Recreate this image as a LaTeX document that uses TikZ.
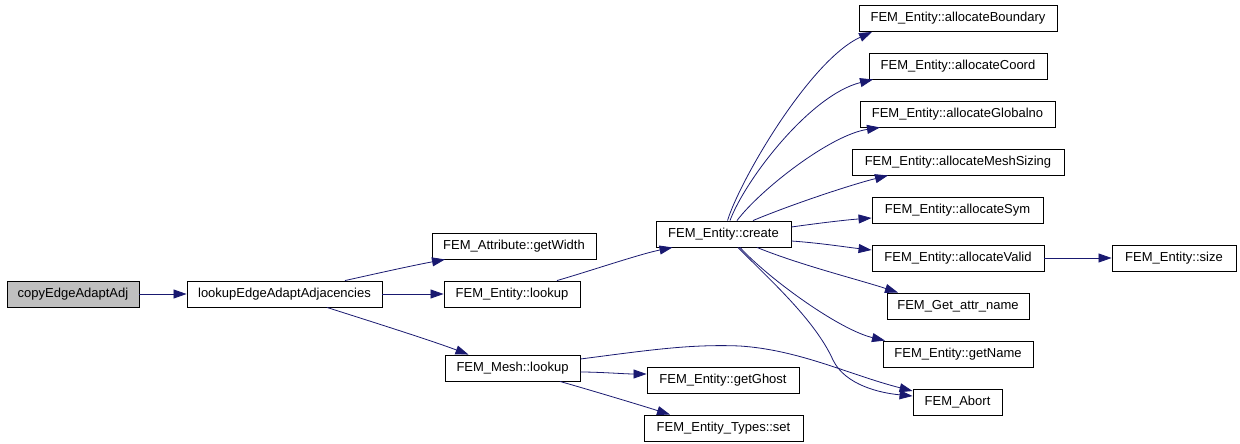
\documentclass[tikz,border=0pt]{standalone}
\usepackage{fontspec}
\setmainfont{Liberation Sans}
\usetikzlibrary{arrows.meta}
\definecolor{edgeblue}{RGB}{25,25,112}
\definecolor{hl}{RGB}{191,191,191}
\begin{document}
\begin{tikzpicture}[x=1pt,y=-1pt,
  fn/.style={draw=black,line width=0.9pt,fill=white,inner sep=0pt,minimum height=26pt,font=\fontsize{13}{15}\selectfont,text=black},
  cur/.style={fn,fill=hl},
  call/.style={draw=edgeblue,line width=0.8pt,-{Triangle[length=13pt,width=9pt,fill=edgeblue]}}]
\useasboundingbox (0,0) rectangle (1240,444);
\node[cur,minimum width=132pt] (copy) at (73,294) {copyEdgeAdaptAdj};
\node[fn,minimum width=195pt] (lea) at (284.5,294) {lookupEdgeAdaptAdjacencies};
\node[fn,minimum width=164pt] (gw) at (514,246) {FEM\_Attribute::getWidth};
\node[fn,minimum width=136pt] (el) at (512,294) {FEM\_Entity::lookup};
\node[fn,minimum width=135pt] (ml) at (512.5,368) {FEM\_Mesh::lookup};
\node[fn,minimum width=135pt] (create) at (723.5,234) {FEM\_Entity::create};
\node[fn,minimum width=152pt] (gg) at (723,380) {FEM\_Entity::getGhost};
\node[fn,minimum width=159pt] (set) at (723.5,428) {FEM\_Entity\_Types::set};
\node[fn,minimum width=198pt] (aB) at (958,18.5) {FEM\_Entity::allocateBoundary};
\node[fn,minimum width=178pt] (aC) at (958,66) {FEM\_Entity::allocateCoord};
\node[fn,minimum width=195pt] (aG) at (957.5,114) {FEM\_Entity::allocateGlobalno};
\node[fn,minimum width=212pt] (aMS) at (958,162) {FEM\_Entity::allocateMeshSizing};
\node[fn,minimum width=171pt] (aS) at (957.5,210) {FEM\_Entity::allocateSym};
\node[fn,minimum width=172pt] (aV) at (958,258) {FEM\_Entity::allocateValid};
\node[fn,minimum width=124pt] (size) at (1174,258) {FEM\_Entity::size};
\node[fn,minimum width=142pt] (gan) at (958,306) {FEM\_Get\_attr\_name};
\node[fn,minimum width=150pt] (gn) at (958,354) {FEM\_Entity::getName};
\node[fn,minimum width=89pt] (ab) at (957.5,402) {FEM\_Abort};

\draw[call] (copy.east) -- (lea.west);
\draw[call] ([xshift=60.5pt]lea.north) .. controls (370,275) and (410,266) .. ([xshift=-69pt]gw.south);
\draw[call] (lea.east) -- (el.west);
\draw[call] ([xshift=42.5pt]lea.south) .. controls (360,318) and (430,340) .. ([xshift=-44pt]ml.north);
\draw[call] ([xshift=45pt]el.north) .. controls (590,271) and (640,254) .. ([xshift=-51pt]create.south);
\draw[call] ([xshift=4pt]create.north) .. controls (740,180) and (810,60) .. ([xshift=-86pt]aB.south);
\draw[call] ([xshift=6.5pt]create.north) .. controls (745,180) and (810,95) .. ([xshift=-85pt]aC.south);
\draw[call] ([xshift=13.5pt]create.north) .. controls (760,190) and (830,135) .. ([xshift=-77.5pt]aG.south);
\draw[call] ([xshift=29.5pt]create.north) .. controls (790,205) and (850,185) .. ([xshift=-70pt]aMS.south);
\draw[call] ([yshift=7pt]create.east) .. controls (820,223) and (845,220) .. ([yshift=-8pt]aS.west);
\draw[call] ([yshift=-7pt]create.east) .. controls (820,243) and (845,247) .. ([yshift=8pt]aV.west);
\draw[call] (aV.east) -- (size.west);
\draw[call] ([xshift=33.5pt]create.south) .. controls (800,265) and (860,280) .. ([xshift=-60pt]gan.north);
\draw[call] ([xshift=16.5pt]create.south) .. controls (770,280) and (840,330) .. ([xshift=-73pt]gn.north);
\draw[call] ([xshift=14.5pt]create.south) .. controls (770,280) and (815,320) .. (833,360) .. controls (845,385) and (880,393) .. ([yshift=6pt]ab.west);
\draw[call] ([yshift=9pt]ml.east) .. controls (650,350) and (690,344) .. (740,346) .. controls (800,350) and (850,375) .. ([yshift=11pt]ab.west);
\draw[call] ([yshift=-4pt]ml.east) .. controls (600,372) and (625,374) .. ([yshift=6pt]gg.west);
\draw[call] ([xshift=47.5pt]ml.south) .. controls (590,390) and (640,405) .. ([xshift=-53.5pt]set.north);
\end{tikzpicture}
\end{document}
